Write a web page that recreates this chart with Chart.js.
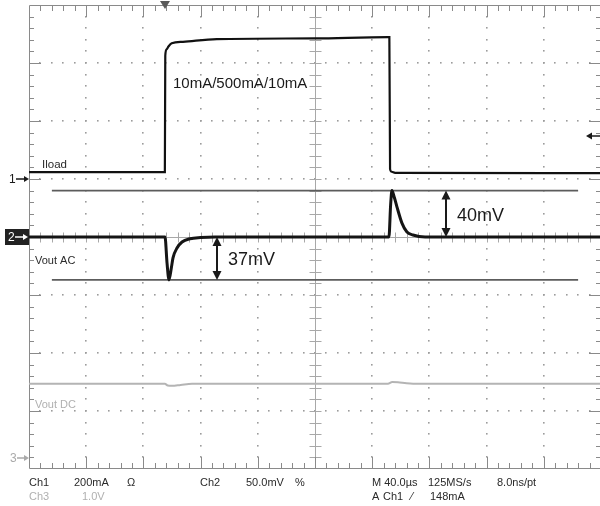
<!DOCTYPE html>
<html><head><meta charset="utf-8">
<script src="https://cdn.jsdelivr.net/npm/chart.js@4.4.0/dist/chart.umd.min.js"></script>
<style>html,body{margin:0;padding:0;background:#fff;overflow:hidden;width:600px;height:506px}canvas{display:block}</style>
</head><body><canvas id="c" width="602" height="506" style="width:602px;height:506px"></canvas>
<script>
// ---- Data ----
// Ch1: load current (mA), 200 mA/div
const iloadTimeUs = [-200, -105, -104.7, -103.8, -102.6, -100.2, -92.3, -68.7, 0, 51, 52, 52.5, 53.6, 56, 200];
const iloadMa     = [24, 24, 425, 447, 456, 468, 473, 482, 485, 489, 489, 34, 25, 21, 20];
// Ch2: Vout AC coupled (mV), 50 mV/div
const voutAcTimeUs = [-200, -104.9, -103.5, -102.1, -100.5, -99.3, -96.5, -93, -87.4, -80, -70, 51.7, 52.9, 53.8, 55.5, 57.3, 60.8, 64.3, 68.5, 77, 200];
const voutAcMv     = [0, 0, -22, -37, -27, -18, -9.5, -4.3, -1.5, -0.5, 0, 0, 28, 40, 34, 26, 12, 4.3, 1.7, 0, 0];
// Ch3: Vout DC (V), 1.0 V/div
const voutDcTimeUs = [-200, -105, -103, -100, -94, -86, 51, 54, 58, 64, 72, 200];
const voutDcV      = [1.28, 1.28, 1.25, 1.245, 1.26, 1.28, 1.28, 1.31, 1.305, 1.29, 1.28, 1.28];
// Cursors (mV on Ch2) and their span (us)
const cursorLevelsMv = [40, -37];
const cursorSpanUs = [-184, 184];
// Measurement arrows: time (us), from mV, to mV, label
const arrowTimesUs = [-68.5, 91.6];
const arrowFromMv = [0, 40];
const arrowToMv = [-37, 0];
const arrowLabels = ['37mV', '40mV'];
// Scope settings
const timePerDivUs = 40;
const triggerTimeUs = -104.9;
const triggerLevelMa = 148;
const readoutRow1 = ['Ch1', '200mA', 'Ω', 'Ch2', '50.0mV', '%', 'M 40.0µs', '125MS/s', '8.0ns/pt'];
const readoutRow2 = ['Ch3', '1.0V', 'A', 'Ch1', '⁄', '148mA'];
const pulseLabel = '10mA/500mA/10mA';

const FONT = '"Liberation Sans", Arial, sans-serif';
const pts = (xs, ys) => xs.map((x, i) => ({x, y: ys[i]}));

function vArrow(ctx, x, yA, yB) {
  const top = Math.min(yA, yB), bot = Math.max(yA, yB);
  const hl = 9, hw = 4.5;
  ctx.strokeStyle = '#1a1a1a'; ctx.fillStyle = '#1a1a1a'; ctx.lineWidth = 2;
  ctx.beginPath(); ctx.moveTo(x, top + hl - 1); ctx.lineTo(x, bot - hl + 1); ctx.stroke();
  ctx.beginPath(); ctx.moveTo(x, top); ctx.lineTo(x - hw, top + hl); ctx.lineTo(x + hw, top + hl); ctx.closePath(); ctx.fill();
  ctx.beginPath(); ctx.moveTo(x, bot); ctx.lineTo(x - hw, bot - hl); ctx.lineTo(x + hw, bot - hl); ctx.closePath(); ctx.fill();
}
function hArrowRight(ctx, x1, x2, y, color) {
  ctx.strokeStyle = color; ctx.fillStyle = color; ctx.lineWidth = 1.5;
  ctx.beginPath(); ctx.moveTo(x1, y); ctx.lineTo(x2 - 4, y); ctx.stroke();
  ctx.beginPath(); ctx.moveTo(x2, y); ctx.lineTo(x2 - 5, y - 3); ctx.lineTo(x2 - 5, y + 3); ctx.closePath(); ctx.fill();
}

const scopePlugin = {
  id: 'scope',
  beforeDatasetsDraw(chart) {
    const ctx = chart.ctx, xs = chart.scales.x, ys = chart.scales.yAC, a = chart.chartArea;
    ctx.save();
    const nx = Math.round((xs.max - xs.min) / timePerDivUs);
    const ny = 8, mvDiv = (ys.max - ys.min) / ny;
    // dotted grid
    ctx.fillStyle = '#9c9c9c';
    for (let d = 1; d < nx; d++) {
      if (d === nx / 2) continue;
      const px = Math.round(xs.getPixelForValue(xs.min + d * timePerDivUs));
      for (let m = 1; m < ny * 5; m++) {
        const py = Math.round(ys.getPixelForValue(ys.min + m * mvDiv / 5));
        ctx.fillRect(px - 1, py - 1, 1.6, 1.6);
      }
    }
    for (let d = 1; d < ny; d++) {
      if (d === ny / 2) continue;
      const py = Math.round(ys.getPixelForValue(ys.min + d * mvDiv));
      for (let m = 1; m < nx * 5; m++) {
        const px = Math.round(xs.getPixelForValue(xs.min + m * timePerDivUs / 5));
        ctx.fillRect(px - 1, py - 1, 1.6, 1.6);
      }
    }
    // center lines
    const cx = Math.round(xs.getPixelForValue(0)) + 0.5, cy = Math.round(ys.getPixelForValue(0)) + 0.5;
    ctx.strokeStyle = '#a8a8a8'; ctx.lineWidth = 1;
    ctx.beginPath();
    ctx.moveTo(cx, a.top); ctx.lineTo(cx, a.bottom);
    ctx.moveTo(a.left, cy); ctx.lineTo(a.right, cy);
    for (let m = 1; m < ny * 5; m++) {
      const py = Math.round(ys.getPixelForValue(ys.min + m * mvDiv / 5)) + 0.5;
      ctx.moveTo(cx - 6, py); ctx.lineTo(cx + 6, py);
    }
    for (let m = 1; m < nx * 5; m++) {
      const px = Math.round(xs.getPixelForValue(xs.min + m * timePerDivUs / 5)) + 0.5;
      ctx.moveTo(px, cy - 5); ctx.lineTo(px, cy + 5);
    }
    ctx.stroke();
    // border + ticks
    ctx.strokeStyle = '#8a8a8a';
    ctx.beginPath();
    ctx.rect(a.left + 0.5, a.top + 0.5, a.right - a.left - 1, a.bottom - a.top - 1);
    for (let m = 1; m < nx * 5; m++) {
      const px = Math.round(xs.getPixelForValue(xs.min + m * timePerDivUs / 5)) + 0.5;
      const L = (m % 5 === 0) ? 12 : 6;
      ctx.moveTo(px, a.top); ctx.lineTo(px, a.top + L);
      ctx.moveTo(px, a.bottom); ctx.lineTo(px, a.bottom - L);
    }
    for (let m = 1; m < ny * 5; m++) {
      const py = Math.round(ys.getPixelForValue(ys.min + m * mvDiv / 5)) + 0.5;
      const L = (m % 5 === 0) ? 12 : 5;
      ctx.moveTo(a.left, py); ctx.lineTo(a.left + L, py);
      ctx.moveTo(a.right, py); ctx.lineTo(a.right - L, py);
    }
    ctx.stroke();
    ctx.restore();
  },
  afterDatasetsDraw(chart) {
    const ctx = chart.ctx, xs = chart.scales.x, ys = chart.scales.yAC, yi = chart.scales.yI, yd = chart.scales.yDC, a = chart.chartArea;
    ctx.save();
    // measurement arrows + labels
    arrowTimesUs.forEach((t, i) => {
      const px = Math.round(xs.getPixelForValue(t));
      const y1 = ys.getPixelForValue(arrowFromMv[i]), y2 = ys.getPixelForValue(arrowToMv[i]);
      vArrow(ctx, px, y1, y2);
      ctx.fillStyle = '#1a1a1a'; ctx.font = '18px ' + FONT; ctx.textBaseline = 'alphabetic'; ctx.textAlign = 'left';
      ctx.fillText(arrowLabels[i], px + 11, (y1 + y2) / 2 + 7);
    });
    // pulse label
    ctx.fillStyle = '#1a1a1a'; ctx.font = '15px ' + FONT;
    ctx.fillText(pulseLabel, 173, 88);
    // channel labels
    ctx.font = '11.5px ' + FONT; ctx.fillStyle = '#2a2a2a';
    ctx.fillText('Iload', 42, 168);
    ctx.font = '11px ' + FONT;
    ctx.fillText('Vout AC', 35, 264);
    ctx.fillStyle = '#b0b0b0';
    ctx.fillText('Vout DC', 35, 408);
    // ground markers
    const g1 = Math.round(yi.getPixelForValue(0)), g2 = Math.round(ys.getPixelForValue(0)), g3 = Math.round(yd.getPixelForValue(0));
    ctx.font = '12px ' + FONT; ctx.textBaseline = 'middle';
    ctx.fillStyle = '#1a1a1a'; ctx.fillText('1', 9, g1 + 1); hArrowRight(ctx, 16, 29, g1, '#1a1a1a');
    ctx.fillStyle = '#222'; ctx.fillRect(5, g2 - 8, 24, 16);
    ctx.fillStyle = '#fff'; ctx.fillText('2', 8, g2 + 1); hArrowRight(ctx, 15, 28, g2, '#fff');
    ctx.fillStyle = '#aaa'; ctx.fillText('3', 10, g3 + 1); hArrowRight(ctx, 17, 29, g3, '#aaa');
    // trigger position (top) and level (right)
    const tp = xs.getPixelForValue(triggerTimeUs);
    ctx.fillStyle = '#5a5a5a';
    ctx.beginPath(); ctx.moveTo(tp - 5, 1); ctx.lineTo(tp + 5, 1); ctx.lineTo(tp, 9); ctx.closePath(); ctx.fill();
    const tl = Math.round(yi.getPixelForValue(triggerLevelMa));
    ctx.strokeStyle = '#1a1a1a'; ctx.fillStyle = '#1a1a1a'; ctx.lineWidth = 1.5;
    ctx.beginPath(); ctx.moveTo(600, tl); ctx.lineTo(590, tl); ctx.stroke();
    ctx.beginPath(); ctx.moveTo(586, tl); ctx.lineTo(592, tl - 3.5); ctx.lineTo(592, tl + 3.5); ctx.closePath(); ctx.fill();
    // readouts
    ctx.textBaseline = 'alphabetic'; ctx.font = '11px ' + FONT;
    ctx.fillStyle = '#2a2a2a';
    const r1x = [29, 74, 127, 200, 246, 295, 372, 428, 497];
    readoutRow1.forEach((s, i) => ctx.fillText(s, r1x[i], 486));
    const r2x = [29, 82, 372, 383, 411, 430];
    readoutRow2.forEach((s, i) => { ctx.fillStyle = i < 2 ? '#b0b0b0' : '#2a2a2a'; ctx.fillText(s, r2x[i], 500); });
    ctx.restore();
  }
};

const lineDs = (label, data, axis, color, width, extra) => Object.assign({
  label, data, yAxisID: axis, borderColor: color, borderWidth: width,
  pointRadius: 0, fill: false, tension: 0, cubicInterpolationMode: 'monotone'
}, extra || {});

const datasets = [
  ...cursorLevelsMv.map((lv, i) => lineDs('Cursor ' + (i + 1), cursorSpanUs.map(t => ({x: t, y: lv})), 'yAC', '#5c5c5c', 1.8, {order: 5})),
  lineDs('Vout DC', pts(voutDcTimeUs, voutDcV), 'yDC', '#b4b4b4', 2, {order: 4}),
  lineDs('Iload', pts(iloadTimeUs, iloadMa), 'yI', '#111', 2.2, {order: 3}),
  lineDs('Vout AC', pts(voutAcTimeUs, voutAcMv), 'yAC', '#151515', 3, {order: 2}),
];

new Chart(document.getElementById('c'), {
  type: 'line',
  data: {datasets},
  options: {
    responsive: false, animation: false, devicePixelRatio: 1,
    layout: {padding: {left: 29, top: 5, right: 1, bottom: 37}},
    plugins: {legend: {display: false}, tooltip: {enabled: false}},
    scales: {
      x: {type: 'linear', min: -200, max: 200, display: false},
      yI: {type: 'linear', min: -1000, max: 600, display: false},
      yAC: {type: 'linear', min: -200, max: 200, display: false},
      yDC: {type: 'linear', min: -0.19, max: 7.81, display: false}
    }
  },
  plugins: [scopePlugin]
});
</script></body></html>
